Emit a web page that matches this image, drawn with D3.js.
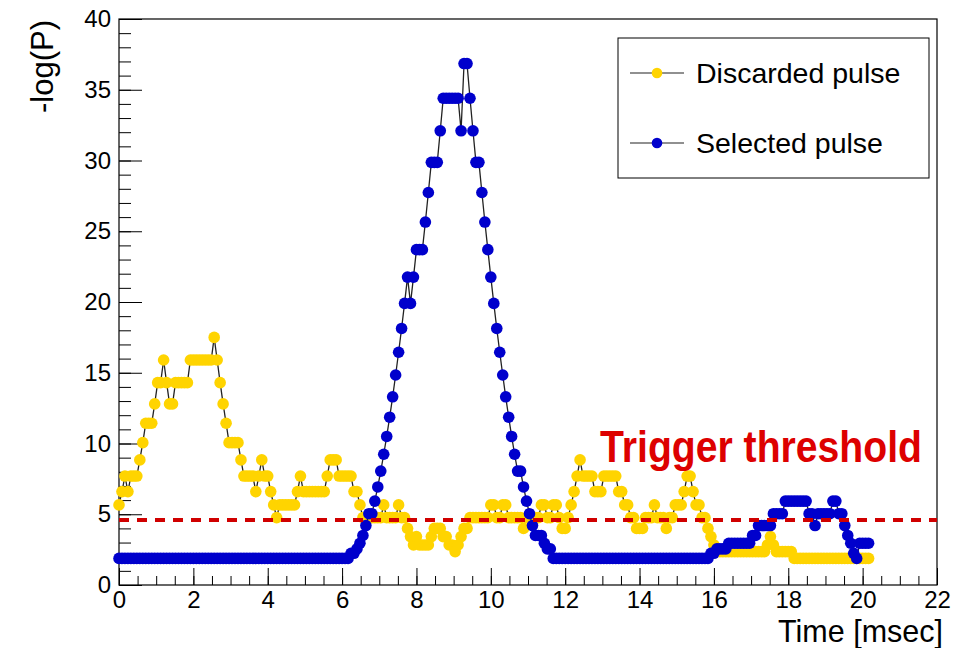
<!DOCTYPE html>
<html>
<head>
<meta charset="utf-8">
<script src="https://cdn.jsdelivr.net/npm/d3@7"></script>
<style>
  body { margin: 0; background: #fff; }
  text { font-family: 'Liberation Sans', Arial, Helvetica, sans-serif; }
</style>
</head>
<body>
<svg id="chart" width="974" height="648"></svg>
<script>
// samples are taken every 0.08 msec, starting at t = 0
var timeStep = 0.08;

// -log(P) of the discarded pulse, one value per sample
var discarded = [
  5.66, 6.6, 7.7, 6.6, 7.7, 7.7, 7.7, 8.84, 10.06, 11.43,
  11.43, 11.43, 12.8, 14.3, 14.3, 15.9, 14.3, 12.8, 12.8, 14.3,
  14.3, 14.3, 14.3, 14.3, 15.9, 15.9, 15.9, 15.9, 15.9, 15.9,
  15.9, 15.9, 17.5, 15.9, 14.3, 12.8, 11.43, 10.06, 10.06, 10.06,
  10.06, 8.84, 7.7, 7.7, 7.7, 7.7, 6.6, 7.7, 8.84, 7.7,
  7.7, 6.6, 5.66, 4.76, 5.66, 5.66, 5.66, 5.66, 5.66, 5.66,
  6.6, 7.7, 6.6, 6.6, 6.6, 6.6, 6.6, 6.6, 6.6, 6.6,
  7.7, 8.84, 8.84, 8.84, 7.7, 7.7, 7.7, 7.7, 7.7, 6.6,
  6.6, 5.66, 4.76, 4.76, 4.76, 4.76, 4.76, 4.76, 4.76, 5.66,
  4.76, 4.76, 4.76, 4.76, 5.66, 4.76, 4.76, 4.0, 3.42, 2.83,
  3.42, 2.83, 2.83, 2.83, 2.83, 3.42, 4.0, 4.0, 4.0, 3.42,
  3.42, 2.83, 2.83, 2.36, 2.83, 3.42, 4.0, 4.0, 4.76, 4.76,
  4.76, 4.76, 4.76, 4.76, 4.76, 5.66, 5.66, 4.76, 4.76, 5.66,
  5.66, 4.76, 4.76, 4.76, 4.76, 4.76, 4.0, 4.76, 4.76, 4.76,
  4.76, 4.76, 5.66, 5.66, 4.76, 4.76, 5.66, 5.66, 4.76, 4.0,
  4.0, 4.76, 5.66, 6.6, 7.7, 8.84, 7.7, 7.7, 7.7, 7.7,
  6.6, 6.6, 6.6, 7.7, 7.7, 7.7, 7.7, 7.7, 6.6, 6.6,
  5.66, 5.66, 4.76, 4.76, 4.0, 4.0, 4.0, 4.76, 4.76, 4.76,
  5.66, 4.76, 4.76, 4.76, 4.0, 4.76, 4.76, 5.66, 5.66, 5.66,
  6.6, 7.7, 7.7, 6.6, 5.66, 5.66, 4.76, 4.76, 4.0, 3.42,
  2.83, 2.36, 2.36, 2.36, 2.36, 2.36, 2.36, 2.36, 2.36, 2.36,
  2.36, 2.36, 2.36, 2.36, 2.36, 2.36, 2.36, 2.36, 2.83, 3.42,
  2.83, 2.36, 2.36, 2.36, 2.36, 2.36, 2.36, 1.88, 1.88, 1.88,
  1.88, 1.88, 1.88, 1.88, 1.88, 1.88, 1.88, 1.88, 1.88, 1.88,
  1.88, 1.88, 1.88, 1.88, 1.88, 1.88, 1.88, 1.88, 1.88, 1.88,
  1.88, 1.88, 1.88
];

// -log(P) of the selected pulse, same sampling
var selected = [
  1.88, 1.88, 1.88, 1.88, 1.88, 1.88, 1.88, 1.88, 1.88, 1.88,
  1.88, 1.88, 1.88, 1.88, 1.88, 1.88, 1.88, 1.88, 1.88, 1.88,
  1.88, 1.88, 1.88, 1.88, 1.88, 1.88, 1.88, 1.88, 1.88, 1.88,
  1.88, 1.88, 1.88, 1.88, 1.88, 1.88, 1.88, 1.88, 1.88, 1.88,
  1.88, 1.88, 1.88, 1.88, 1.88, 1.88, 1.88, 1.88, 1.88, 1.88,
  1.88, 1.88, 1.88, 1.88, 1.88, 1.88, 1.88, 1.88, 1.88, 1.88,
  1.88, 1.88, 1.88, 1.88, 1.88, 1.88, 1.88, 1.88, 1.88, 1.88,
  1.88, 1.88, 1.88, 1.88, 1.88, 1.88, 1.88, 1.88, 2.24, 2.24,
  2.55, 2.95, 3.5, 4.2, 5.04, 5.04, 5.93, 6.93, 8.05, 9.24,
  10.5, 11.86, 13.3, 14.84, 16.45, 18.13, 19.9, 21.76, 19.9, 21.76,
  23.7, 23.7, 23.7, 25.65, 27.74, 29.87, 29.87, 29.87, 32.1, 34.4,
  34.4, 34.4, 34.4, 34.4, 34.4, 32.1, 36.85, 36.85, 34.4, 32.1,
  29.87, 29.87, 27.74, 25.65, 23.7, 21.76, 19.9, 18.13, 16.45, 14.84,
  13.3, 11.86, 10.5, 9.24, 8.05, 8.05, 6.93, 5.93, 5.04, 4.2,
  3.5, 3.5, 3.5, 2.95, 2.55, 2.55, 1.88, 1.88, 1.88, 1.88,
  1.88, 1.88, 1.88, 1.88, 1.88, 1.88, 1.88, 1.88, 1.88, 1.88,
  1.88, 1.88, 1.88, 1.88, 1.88, 1.88, 1.88, 1.88, 1.88, 1.88,
  1.88, 1.88, 1.88, 1.88, 1.88, 1.88, 1.88, 1.88, 1.88, 1.88,
  1.88, 1.88, 1.88, 1.88, 1.88, 1.88, 1.88, 1.88, 1.88, 1.88,
  1.88, 1.88, 1.88, 1.88, 1.88, 1.88, 1.88, 1.88, 1.88, 2.24,
  2.24, 2.55, 2.55, 2.55, 2.55, 2.95, 2.95, 2.95, 2.95, 2.95,
  2.95, 2.95, 2.95, 3.5, 3.5, 4.2, 4.2, 4.2, 4.2, 4.2,
  5.04, 5.04, 5.04, 5.04, 5.93, 5.93, 5.93, 5.93, 5.93, 5.93,
  5.93, 5.93, 5.04, 5.04, 4.2, 5.04, 5.04, 5.04, 5.04, 5.04,
  5.93, 5.93, 5.04, 5.04, 4.2, 3.5, 2.95, 2.24, 1.88, 2.95,
  2.95, 2.95, 2.95
];

var threshold = 4.6;
var xMajor = [0, 2, 4, 6, 8, 10, 12, 14, 16, 18, 20, 22];
var yMajor = [0, 5, 10, 15, 20, 25, 30, 35, 40];
var legendNames = ['Discarded pulse', 'Selected pulse'];
var seriesColors = ['#ffd400', '#0000cc'];

var svg = d3.select('#chart');

// frame edges in pixels ("top" is taken by window.top)
var frameLeft = 119, frameRight = 937, frameTop = 19, frameBottom = 585;
var markerR = 5.8;

var xScale = d3.scaleLinear()
  .domain([0, 22])
  .range([frameLeft, frameRight]);
var yScale = d3.scaleLinear()
  .domain([0, 40])
  .range([frameBottom, frameTop]);

// minor ticks every 0.5 msec and every 1 unit
var xMinor = d3.range(0, 22.01, 0.5);
var yMinor = d3.range(0, 40.01, 1);

function styleLabels(g) {
  g.select('.domain').remove();
  g.selectAll('text').attr('font-size', '24px').attr('fill', '#000')
    .style('font-family', "'Liberation Sans', Arial, sans-serif");
}

svg.append('g')
  .attr('transform', 'translate(0,' + frameBottom + ')')
  .call(d3.axisBottom(xScale).tickValues(xMinor).tickSize(-9).tickFormat(''))
  .call(function (g) { g.select('.domain').remove(); });

svg.append('g')
  .attr('transform', 'translate(0,' + frameBottom + ')')
  .call(d3.axisBottom(xScale).tickValues(xMajor).tickSize(-17).tickPadding(6).tickFormat(d3.format('d')))
  .call(styleLabels);

svg.append('g')
  .attr('transform', 'translate(' + frameLeft + ',0)')
  .call(d3.axisLeft(yScale).tickValues(yMinor).tickSize(-12).tickFormat(''))
  .call(function (g) { g.select('.domain').remove(); });

svg.append('g')
  .attr('transform', 'translate(' + frameLeft + ',0)')
  .call(d3.axisLeft(yScale).tickValues(yMajor).tickSize(-23).tickPadding(8).tickFormat(d3.format('d')))
  .call(styleLabels);

svg.selectAll('.tick line').attr('stroke', '#000').attr('stroke-width', 1);

// frame
svg.append('rect')
  .attr('x', frameLeft)
  .attr('y', frameTop)
  .attr('width', frameRight - frameLeft)
  .attr('height', frameBottom - frameTop)
  .attr('fill', 'none')
  .attr('stroke', '#000')
  .attr('stroke-width', 1.2);

// axis titles
svg.append('text')
  .attr('x', 943)
  .attr('y', 641.5)
  .attr('text-anchor', 'end')
  .attr('font-size', '30.5px')
  .text('Time [msec]');

svg.append('text')
  .attr('transform', 'translate(53,20) rotate(-90)')
  .attr('text-anchor', 'end')
  .attr('font-size', '31px')
  .text('-log(P)');

var line = d3.line()
  .x(function (d, i) { return xScale(i * timeStep); })
  .y(function (d) { return yScale(d); });

function drawSeries(values, color) {
  svg.append('path')
    .datum(values)
    .attr('d', line)
    .attr('fill', 'none')
    .attr('stroke', '#222')
    .attr('stroke-width', 1.3);

  svg.append('g')
    .selectAll('circle')
    .data(values)
    .enter()
    .append('circle')
    .attr('cx', function (d, i) { return xScale(i * timeStep); })
    .attr('cy', function (d) { return yScale(d); })
    .attr('r', markerR)
    .attr('fill', color);
}

drawSeries(discarded, seriesColors[0]);
drawSeries(selected, seriesColors[1]);

// trigger threshold
svg.append('line')
  .attr('x1', frameLeft)
  .attr('x2', frameRight)
  .attr('y1', yScale(threshold))
  .attr('y2', yScale(threshold))
  .attr('stroke', '#d00000')
  .attr('stroke-width', 4)
  .attr('stroke-dasharray', '10,8');

svg.append('text')
  .attr('x', 600)
  .attr('y', 462)
  .attr('font-size', '44px')
  .attr('font-weight', 'bold')
  .attr('fill', '#dd0000')
  .attr('textLength', 322)
  .attr('lengthAdjust', 'spacingAndGlyphs')
  .text('Trigger threshold');

// legend
var legend = svg.append('g');
legend.append('rect')
  .attr('x', 618)
  .attr('y', 38)
  .attr('width', 311)
  .attr('height', 140)
  .attr('fill', '#fff')
  .attr('stroke', '#000')
  .attr('stroke-width', 1);

var rows = legend.selectAll('.row')
  .data(legendNames)
  .enter()
  .append('g')
  .attr('transform', function (d, i) { return 'translate(0,' + (73 + i * 70) + ')'; });

rows.append('line')
  .attr('x1', 630)
  .attr('x2', 684)
  .attr('stroke', '#222')
  .attr('stroke-width', 1.2);

rows.append('circle')
  .attr('cx', 657)
  .attr('r', 5.3)
  .attr('fill', function (d, i) { return seriesColors[i]; });

rows.append('text')
  .attr('x', 696)
  .attr('y', 10)
  .attr('font-size', '28.5px')
  .text(function (d) { return d; });
</script>
</body>
</html>
